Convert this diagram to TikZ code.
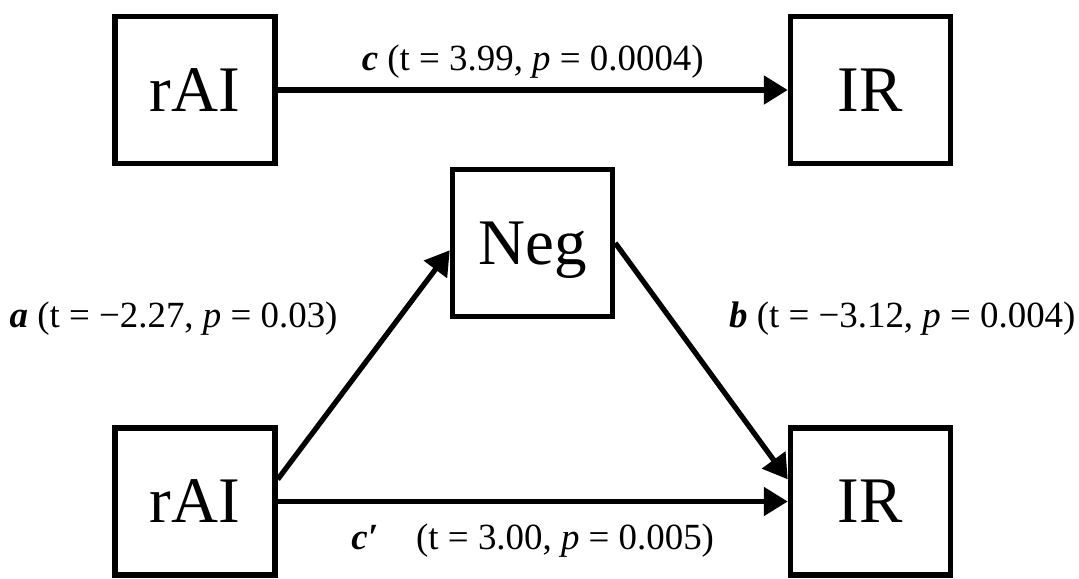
\documentclass[tikz,border=0pt]{standalone}
\usepackage{fontspec}
\setmainfont{Liberation Serif}
\usetikzlibrary{positioning,arrows.meta}

\begin{document}
\begin{tikzpicture}[
  box/.style={draw, line width=1.1mm, minimum width=32mm, minimum height=29.4mm, inner sep=0pt,
    text height=24.4pt, text depth=0pt, font=\fontsize{37pt}{40pt}\selectfont},
  arr/.style={line width=1.05mm, -{Triangle[length=4.8mm, width=5.6mm]}},
  lab/.style={font=\fontsize{21pt}{24pt}\selectfont, inner sep=0pt},
]
\useasboundingbox (0,0) rectangle (215.8mm,-115.8mm);
% Total effect.
\node[box] (rA) at (39mm,-18mm) {rAI};
\node[box, right=102mm of rA] (IRt) {IR};
\draw[arr] (rA) -- node[lab, above=1.8mm]{\textbf{\textit{c}} (t = 3.99, \textit{p} = 0.0004)} (IRt);
% Mediated path through Neg.
\node[box, right=34.4mm of rA, yshift=-30.6mm] (N) {Neg};
\node[box, below=51.8mm of rA] (rB) {rAI};
\node[box, right=102mm of rB] (IRb) {IR};
\draw[arr] (rB.15) -- node[lab, pos=0.7, left=11.6mm]{\textbf{\textit{a}} (t = −2.27, \textit{p} = 0.03)} (N.185);
\draw[arr] (N.east) -- node[lab, pos=0.32, right=11.2mm]{\textbf{\textit{b}} (t = −3.12, \textit{p} = 0.004)} (IRb.165);
\draw[arr] (rB) -- node[lab, below=4mm]{\textbf{\textit{c′}}\hspace{7.6mm}(t = 3.00, \textit{p} = 0.005)} (IRb);
\end{tikzpicture}
\end{document}
